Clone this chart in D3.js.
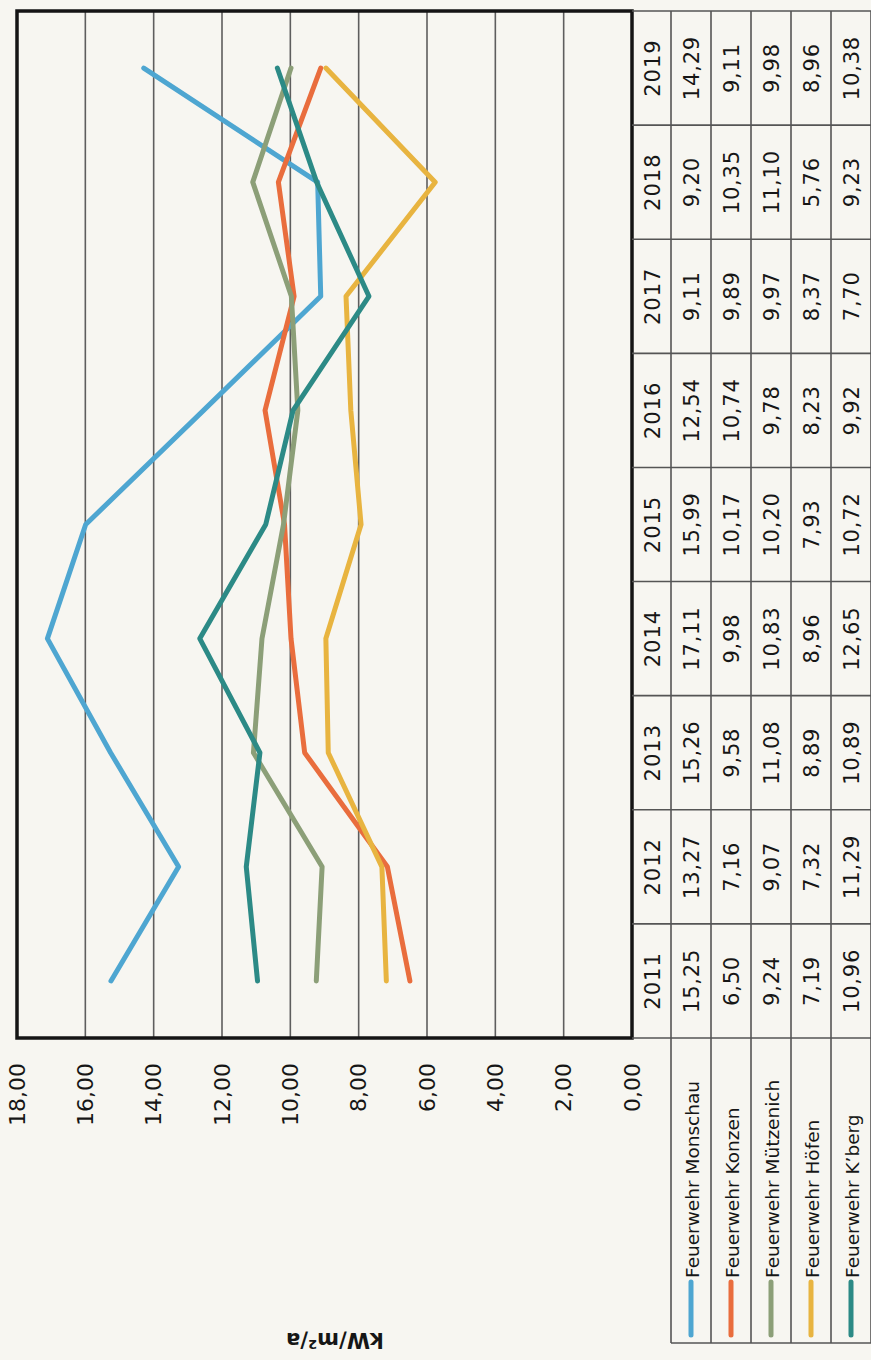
<!DOCTYPE html>
<html><head><meta charset="utf-8">
<script src="https://cdn.jsdelivr.net/npm/d3@7"></script>
<style>html,body{margin:0;padding:0;background:#f7f6f1;} svg{display:block;}</style>
</head><body>
<svg id="chart" width="871" height="1360"></svg>
<script>
// ---- data ----
const years = ["2011","2012","2013","2014","2015","2016","2017","2018","2019"];
const seriesNames = ["Feuerwehr Monschau","Feuerwehr Konzen","Feuerwehr Mützenich","Feuerwehr Höfen","Feuerwehr K’berg"];
const monschau  = [15.25, 13.27, 15.26, 17.11, 15.99, 12.54, 9.11, 9.20, 14.29];
const konzen    = [6.50, 7.16, 9.58, 9.98, 10.17, 10.74, 9.89, 10.35, 9.11];
const muetzenich= [9.24, 9.07, 11.08, 10.83, 10.20, 9.78, 9.97, 11.10, 9.98];
const hoefen    = [7.19, 7.32, 8.89, 8.96, 7.93, 8.23, 8.37, 5.76, 8.96];
const kberg     = [10.96, 11.29, 10.89, 12.65, 10.72, 9.92, 7.70, 9.23, 10.38];
const seriesValues = [monschau, konzen, muetzenich, hoefen, kberg];
const seriesColors = ["#4ea6d1", "#e96d3d", "#8c9f78", "#e8b440", "#2c8a86"];
const valueTicks = [0, 2, 4, 6, 8, 10, 12, 14, 16, 18];
const axisTitle = "kW/m²/a";

// ---- layout (drawn in the chart's own orientation, then rotated onto the page) ----
const W = 1360, H = 871;
const plot = {x0: 322, x1: 1349, y0: 17, y1: 632};
const rowTop = 632, headerH = 39, rowH = 40;
const legendX0 = 17;
const fmt = d => d.toFixed(2).replace(".", ",");

const svg = d3.select("#chart");
svg.append("rect").attr("width", 871).attr("height", 1360).attr("fill", "#f7f6f1");
const g = svg.append("g").attr("transform", `translate(0,${W}) rotate(-90)`);

const x = d3.scaleBand().domain(years).range([plot.x0, plot.x1]).padding(0);
const y = d3.scaleLinear().domain([0, 18]).range([plot.y1, plot.y0]);

// gridlines
g.append("g").selectAll("line").data(valueTicks.filter(t => t > 0 && t < 18)).join("line")
  .attr("x1", plot.x0).attr("x2", plot.x1)
  .attr("y1", d => y(d)).attr("y2", d => y(d))
  .attr("stroke", "#5e5e5e").attr("stroke-width", 1.6);

// value axis labels
const axis = d3.axisLeft(y).tickValues(valueTicks).tickFormat(fmt).tickSize(0).tickPadding(25);
const ax = g.append("g").attr("transform", `translate(${plot.x0},0)`).call(axis);
ax.select(".domain").remove();
ax.selectAll("text").attr("font-family", "DejaVu Sans").attr("font-size", 22).attr("fill", "#161616");

// lines
const line = d3.line().x((d, i) => x(years[i]) + x.bandwidth() / 2).y(d => y(d));
g.append("g").selectAll("path").data(seriesValues).join("path")
  .attr("d", d => line(d))
  .attr("fill", "none")
  .attr("stroke", (d, i) => seriesColors[i])
  .attr("stroke-width", 5)
  .attr("stroke-linejoin", "round")
  .attr("stroke-linecap", "round");

// plot frame
g.append("rect").attr("x", plot.x0).attr("y", plot.y0)
  .attr("width", plot.x1 - plot.x0).attr("height", plot.y1 - plot.y0)
  .attr("fill", "none").attr("stroke", "#151515").attr("stroke-width", 3.5);

// data table
const tbl = g.append("g").attr("stroke", "#555").attr("stroke-width", 1.6);
const tableBottom = rowTop + headerH + rowH * seriesNames.length;
const bounds = years.map(yr => x(yr)).concat([plot.x1]);
tbl.selectAll("line.v").data(bounds).join("line").attr("class", "v")
  .attr("x1", d => d).attr("x2", d => d).attr("y1", rowTop).attr("y2", tableBottom);
const rowLines = d3.range(seriesNames.length + 1).map(i => rowTop + headerH + i * rowH);
tbl.selectAll("line.h").data(rowLines).join("line").attr("class", "h")
  .attr("x1", legendX0).attr("x2", plot.x1).attr("y1", d => d).attr("y2", d => d);
tbl.append("line").attr("x1", legendX0).attr("x2", legendX0)
  .attr("y1", rowTop + headerH).attr("y2", tableBottom);

// header year labels
g.append("g").selectAll("text").data(years).join("text")
  .attr("x", d => x(d) + x.bandwidth() / 2)
  .attr("y", rowTop + headerH / 2 + 1)
  .attr("text-anchor", "middle").attr("dominant-baseline", "central")
  .attr("font-family", "DejaVu Sans").attr("font-size", 21).attr("letter-spacing", 1)
  .attr("fill", "#161616").text(d => d);

// values
seriesValues.forEach((vals, si) => {
  g.append("g").selectAll("text").data(vals).join("text")
    .attr("x", (d, i) => x(years[i]) + x.bandwidth() / 2)
    .attr("y", rowTop + headerH + si * rowH + rowH / 2 + 1)
    .attr("text-anchor", "middle").attr("dominant-baseline", "central")
    .attr("font-family", "DejaVu Sans").attr("font-size", 21).attr("letter-spacing", 0.8)
    .attr("fill", "#161616").text(d => fmt(d));
});

// legend keys inside table
const leg = g.append("g").selectAll("g").data(seriesNames).join("g")
  .attr("transform", (d, i) => `translate(0,${rowTop + headerH + i * rowH + rowH / 2})`);
leg.append("line").attr("x1", 25).attr("x2", 78).attr("y1", 0).attr("y2", 0)
  .attr("stroke", (d, i) => seriesColors[i]).attr("stroke-width", 5).attr("stroke-linecap", "round");
leg.append("text").attr("x", 82).attr("y", 1).attr("dominant-baseline", "central")
  .attr("font-family", "DejaVu Sans").attr("font-size", 18.5).attr("fill", "#161616")
  .text(d => d);

// axis title
g.append("text").attr("transform", "translate(20,335) rotate(-90)")
  .attr("text-anchor", "middle").attr("dominant-baseline", "central")
  .attr("font-family", "DejaVu Sans").attr("font-weight", "bold").attr("font-size", 21)
  .attr("fill", "#161616").text(axisTitle);
</script>
</body></html>
